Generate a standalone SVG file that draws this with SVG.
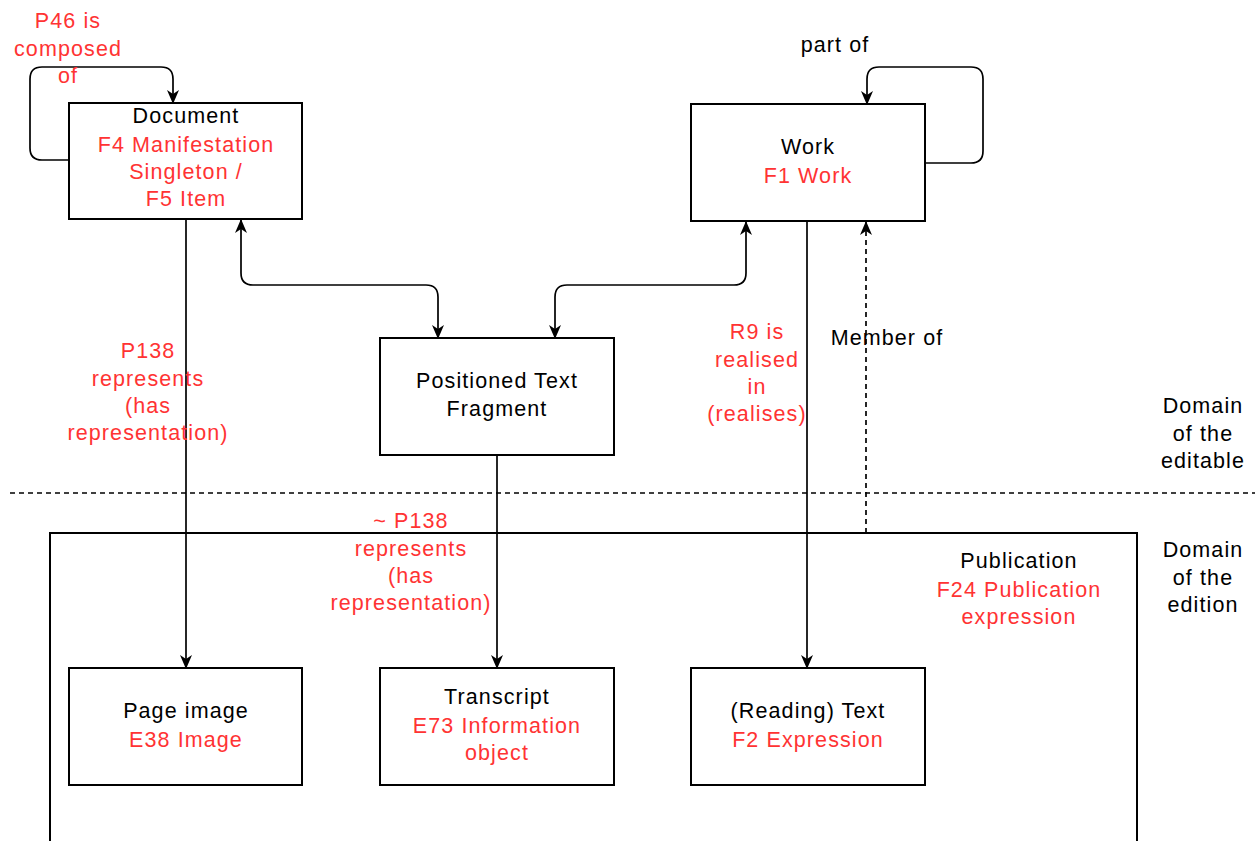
<svg xmlns="http://www.w3.org/2000/svg" width="1255" height="841" viewBox="0 0 1255 841">
<defs>
<style>
.box{fill:#fff;stroke:#000;stroke-width:2}
.ln{fill:none;stroke:#000;stroke-width:1.7}
.dash{fill:none;stroke:#000;stroke-width:1.7;stroke-dasharray:5 4}
text{font-family:"Liberation Sans",Arial,sans-serif;font-size:21.5px;letter-spacing:1.1px;text-anchor:middle;fill:#000}
.r{fill:#ff3333}
</style>
<marker id="a" viewBox="0 0 14 14" refX="13" refY="7" markerWidth="14" markerHeight="14" markerUnits="userSpaceOnUse" orient="auto-start-reverse">
<path d="M0,1 L14,7 L0,13 L4,7 z" fill="#000"/>
</marker>
</defs>
<rect width="1255" height="841" fill="#fff"/>

<g id="divider">
<line x1="10" y1="493" x2="1255" y2="493" class="dash" stroke-dasharray="6 4"/>
</g>

<g id="publication">
<path d="M50,841 V533 H1137 V841" class="box"/>
<text x="1019" y="568">Publication</text>
<text x="1019" y="597" class="r">F24 Publication</text>
<text x="1019" y="624" class="r">expression</text>
</g>

<g id="domain-editable">
<text x="1203" y="413">Domain</text>
<text x="1203" y="441">of the</text>
<text x="1203" y="468">editable</text>
</g>
<g id="domain-edition">
<text x="1203" y="557">Domain</text>
<text x="1203" y="585">of the</text>
<text x="1203" y="612">edition</text>
</g>

<g id="connectors">
<path d="M69,160 H42 Q30,160 30,148 V79 Q30,67 42,67 H161 Q173,67 173,79 V103" class="ln" marker-end="url(#a)"/>
<path d="M925,163 H971 Q983,163 983,151 V79 Q983,67 971,67 H879 Q867,67 867,79 V104" class="ln" marker-end="url(#a)"/>
<path d="M241,220 V273 Q241,285 253,285 H426 Q438,285 438,297 V338" class="ln" marker-start="url(#a)" marker-end="url(#a)"/>
<path d="M746,222 V273 Q746,285 734,285 H567 Q555,285 555,297 V338" class="ln" marker-start="url(#a)" marker-end="url(#a)"/>
<path d="M186,219 V668" class="ln" marker-end="url(#a)"/>
<path d="M497,455 V668" class="ln" marker-end="url(#a)"/>
<path d="M807,221 V668" class="ln" marker-end="url(#a)"/>
<path d="M866,533 V222" class="dash" marker-end="url(#a)"/>
<g id="labels">
<text x="68" y="28" class="r">P46 is</text>
<text x="68" y="56" class="r">composed</text>
<text x="68" y="83" class="r">of</text>
<text x="835" y="52">part of</text>
<text x="148" y="358" class="r">P138</text>
<text x="148" y="386" class="r">represents</text>
<text x="148" y="413" class="r">(has</text>
<text x="148" y="440" class="r">representation)</text>
<text x="411" y="528" class="r">~ P138</text>
<text x="411" y="556" class="r">represents</text>
<text x="411" y="583" class="r">(has</text>
<text x="411" y="610" class="r">representation)</text>
<text x="757" y="339" class="r">R9 is</text>
<text x="757" y="367" class="r">realised</text>
<text x="757" y="394" class="r">in</text>
<text x="757" y="421" class="r">(realises)</text>
<text x="887" y="345">Member of</text>
</g>
</g>

<g id="document">
<rect x="69" y="103" width="233" height="116" class="box"/>
<text x="186" y="123">Document</text>
<text x="186" y="152" class="r">F4 Manifestation</text>
<text x="186" y="179" class="r">Singleton /</text>
<text x="186" y="206" class="r">F5 Item</text>
</g>

<g id="work">
<rect x="691" y="104" width="234" height="117" class="box"/>
<text x="808" y="154">Work</text>
<text x="808" y="183" class="r">F1 Work</text>
</g>

<g id="positioned-text-fragment">
<rect x="380" y="338" width="234" height="117" class="box"/>
<text x="497" y="388">Positioned Text</text>
<text x="497" y="416">Fragment</text>
</g>

<g id="page-image">
<rect x="69" y="668" width="233" height="117" class="box"/>
<text x="186" y="718">Page image</text>
<text x="186" y="747" class="r">E38 Image</text>
</g>

<g id="transcript">
<rect x="380" y="668" width="234" height="117" class="box"/>
<text x="497" y="704">Transcript</text>
<text x="497" y="733" class="r">E73 Information</text>
<text x="497" y="760" class="r">object</text>
</g>

<g id="reading-text">
<rect x="691" y="668" width="234" height="117" class="box"/>
<text x="808" y="718">(Reading) Text</text>
<text x="808" y="747" class="r">F2 Expression</text>
</g>
</svg>
